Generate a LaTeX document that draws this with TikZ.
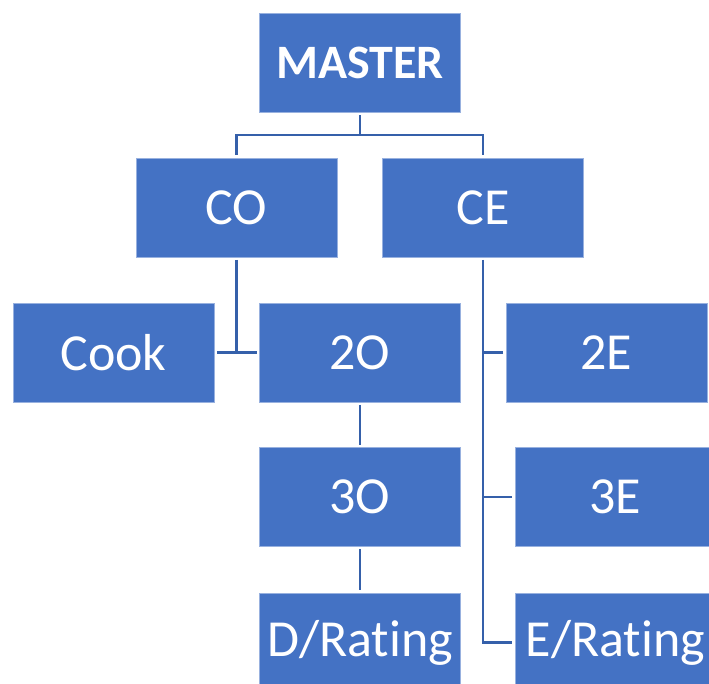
\documentclass[tikz,border=0pt]{standalone}
\usepackage{fontspec}
\setmainfont{Carlito}[Ligatures=NoCommon]
\usetikzlibrary{calc}
\definecolor{boxblue}{HTML}{4472C4}
\definecolor{linkblue}{HTML}{3560AA}
\tikzset{
  orgbox/.style={rectangle, fill=boxblue, draw=boxblue!55!white, line width=0.6pt,
    minimum width=201pt, minimum height=99pt, inner sep=0pt, text=white,
    font=\fontsize{52}{60}\selectfont},
  link/.style={draw=linkblue, line width=2.2pt, shorten <=2.5pt, shorten >=2.5pt},
}
\begin{document}
\begin{tikzpicture}[x=1pt,y=-1pt]
\useasboundingbox (0,0) rectangle (709,683);
\fill[white] (0,0) rectangle (709,683);
\clip (0,0) rectangle (709,683);
\node[orgbox, font=\fontsize{48}{56}\selectfont\bfseries] (MASTER) at (360,63) {MASTER};
\node[orgbox] (CO) at (236.5,207.5) {CO};
\node[orgbox] (CE) at (483,207.5) {CE};
\node[orgbox] (Cook) at (113.5,352.5) {Cook};
\node[orgbox] (2O) at (360,352.5) {2O};
\node[orgbox] (2E) at (606.5,352.5) {2E};
\node[orgbox] (3O) at (360,497) {3O};
\node[orgbox] (3E) at (615.5,497) {3E};
\node[orgbox] (DR) at (360,642.5) {D/Rating};
\node[orgbox] (ER) at (615.5,642.5) {E/Rating};
\coordinate (m1) at (360,135);
\coordinate (c1) at (236.5,352.5);
\draw[link, shorten >=0pt] (MASTER.south) -- (m1);
\draw[link, shorten <=0pt] (m1) -| (CO.north);
\draw[link, shorten <=0pt] (m1) -| (CE.north);
\draw[link, shorten >=0pt] (CO.south) -- (c1);
\draw[link] (Cook.east) -- (2O.west);
\draw[link] (2O.south) -- (3O.north);
\draw[link] (3O.south) -- (DR.north);
\draw[link] (CE.south) |- (ER.west);
\draw[link, shorten >=0pt] (2E.west) -- (2E.west -| CE.south);
\draw[link, shorten >=0pt] (3E.west) -- (3E.west -| CE.south);
\end{tikzpicture}
\end{document}
